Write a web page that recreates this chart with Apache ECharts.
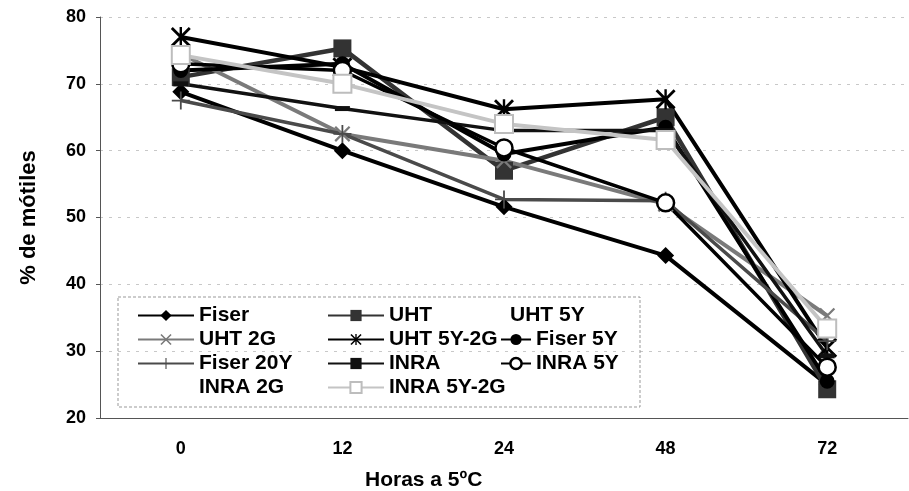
<!DOCTYPE html>
<html>
<head>
<meta charset="utf-8">
<script src="https://cdn.jsdelivr.net/npm/echarts@6/dist/echarts.min.js"></script>
<style>
  html, body { margin: 0; padding: 0; background: #fff; }
  #chart { width: 909px; height: 491px; }
</style>
</head>
<body>
<div id="chart"></div>
<script>
// categorias (horas a 5ºC)
const horas = ['0', '12', '24', '48', '72']

// % de móviles por tratamiento
const fiser = [68.8, 60, 51.6, 44.3, 25]
const uht = [71, 75.3, 57, 65, 24.3]
const uht5y = []
const uht2g = [74.5, 62.5, 58.5, 52, 35.3]
const uht5y2g = [77, 72.5, 66.2, 67.7, 30.5]
const fiser5y = [72, 73, 59.5, 63.5, 25.5]
const fiser20y = [67.5, 62.5, 52.7, 52.5, 31.5]
const inra = [70, 66.3, 63, 63, 29.3]
const inra5y = [73, 72, 60.4, 52.2, 27.6]
const inra2g = []
const inra5y2g = [74.3, 70, 64, 61.6, 33.4]

const yTicks = [20, 30, 40, 50, 60, 70, 80]

// marcadores tipo Excel
const markX = 'path://M0,1 L1,0 L10,9 L9,10 Z M9,0 L10,1 L1,10 L0,9 Z'
const markPlus = 'path://M4.5,0 L5.5,0 L5.5,10 L4.5,10 Z M0,4.5 L10,4.5 L10,5.5 L0,5.5 Z'
const markStar = 'path://M0,1 L1,0 L10,9 L9,10 Z M9,0 L10,1 L1,10 L0,9 Z M4.4,0 L5.6,0 L5.6,10 L4.4,10 Z'
const markDash = 'path://M0,0 L10,0 L10,3 L0,3 Z'

const fontBold = { fontFamily: 'Liberation Sans', fontWeight: 'bold', fontSize: 18, color: '#000' }

const mk = (name, data, color, width, symbol, size, itemStyle) => ({
  name,
  type: 'line',
  data,
  symbol,
  symbolSize: size,
  showSymbol: true,
  lineStyle: { color, width },
  itemStyle: itemStyle || { color },
  emphasis: { disabled: true },
  animation: false
})

const hidden = (name, data) => ({
  name, type: 'line', data, symbol: 'none',
  lineStyle: { opacity: 0 }, itemStyle: { opacity: 0 }
})

const openCircle = { color: '#fff', borderColor: '#000', borderWidth: 2.5 }
const openSquare = { color: '#fff', borderColor: '#bdbdbd', borderWidth: 2 }

const series = [
  mk('Fiser', fiser, '#000', 4, 'diamond', 17),
  mk('UHT', uht, '#333', 4.5, 'rect', 18),
  hidden('UHT 5Y', uht5y),
  mk('UHT 2G', uht2g, '#7a7a7a', 4, markX, 16),
  mk('UHT 5Y-2G', uht5y2g, '#000', 4, markStar, 20),
  mk('Fiser 5Y', fiser5y, '#000', 4, 'circle', 15),
  mk('Fiser 20Y', fiser20y, '#4a4a4a', 3.5, markPlus, 18),
  mk('INRA', inra, '#111', 3.5, markDash, [15, 5]),
  mk('INRA 5Y', inra5y, '#000', 3.5, 'circle', 17, openCircle),
  hidden('INRA 2G', inra2g),
  mk('INRA 5Y-2G', inra5y2g, '#c4c4c4', 4, 'rect', 18, openSquare)
]

const legendBase = {
  orient: 'vertical',
  itemWidth: 56,
  itemHeight: 14,
  itemGap: 3,
  textStyle: Object.assign({}, fontBold, { fontSize: 21 }),
  selectedMode: false
}

const option = {
  backgroundColor: '#fff',
  animation: false,
  grid: { left: 100, right: 1, top: 17, bottom: 73 },
  title: {
    text: 'Horas a 5ºC',
    left: 360,
    top: 465,
    textStyle: Object.assign({}, fontBold, { fontSize: 21 })
  },
  legend: [
    Object.assign({}, legendBase, {
      left: 132, top: 300,
      data: ['Fiser', 'UHT 2G', 'Fiser 20Y', 'INRA 2G']
    }),
    Object.assign({}, legendBase, {
      left: 322, top: 300,
      data: ['UHT', 'UHT 5Y-2G', 'INRA', 'INRA 5Y-2G']
    }),
    Object.assign({}, legendBase, { left: 443, top: 300, data: ['UHT 5Y'] }),
    Object.assign({}, legendBase, {
      left: 495, top: 324, itemWidth: 30,
      data: ['Fiser 5Y', { name: 'INRA 5Y', itemStyle: openCircle }]
    })
  ],
  graphic: [{
    type: 'rect',
    shape: { x: 118, y: 297, width: 522, height: 110 },
    style: { fill: 'transparent', stroke: '#999', lineWidth: 1, lineDash: [3, 2] },
    z: 1
  }],
  xAxis: {
    type: 'category',
    data: horas,
    boundaryGap: true,
    axisLine: { lineStyle: { color: '#555', width: 1 } },
    axisTick: { show: false },
    axisLabel: Object.assign({}, fontBold, { margin: 22 })
  },
  yAxis: {
    type: 'value',
    min: yTicks[0],
    max: yTicks[yTicks.length - 1],
    interval: 10,
    name: '% de mótiles',
    nameLocation: 'middle',
    nameGap: 60,
    nameTextStyle: Object.assign({}, fontBold, { fontSize: 22 }),
    axisLine: { show: true, lineStyle: { color: '#555', width: 1 } },
    axisTick: { show: true, length: 4, lineStyle: { color: '#555' } },
    axisLabel: Object.assign({}, fontBold, { margin: 14 }),
    splitLine: { show: true, lineStyle: { color: '#c8c8c8', width: 1, type: [3, 6] } }
  },
  series
}

const chart = echarts.init(document.getElementById('chart'), null, { renderer: 'canvas' })
chart.setOption(option)
</script>
</body>
</html>
